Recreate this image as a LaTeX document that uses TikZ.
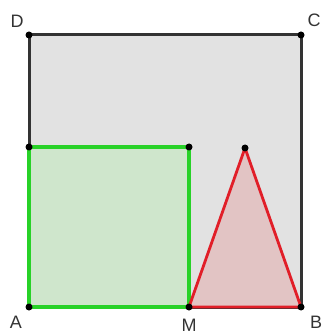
\documentclass[tikz,border=0pt]{standalone}
\usepackage{fontspec}
\setmainfont{Liberation Sans}
\definecolor{sqfill}{RGB}{226,226,226}
\definecolor{grline}{RGB}{40,210,40}
\definecolor{grfill}{RGB}{207,230,204}
\definecolor{rdline}{RGB}{225,30,40}
\definecolor{rdfill}{RGB}{226,196,196}
\tikzset{
  pt/.style={circle,fill=black,inner sep=0pt,minimum size=7pt},
  lbl/.style={font=\fontsize{18}{18}\selectfont,text=black!80,inner sep=0pt},
}
\begin{document}
\begin{tikzpicture}[x=1pt,y=-1pt]
\useasboundingbox (0,0) rectangle (324,336);
\coordinate (A) at (29,307);
\coordinate (B) at (301,307);
\coordinate (C) at (301,35);
\coordinate (D) at (29,35);
\coordinate (M) at (189,307);
\coordinate (E) at (29,147);
\coordinate (F) at (189,147);
\coordinate (T) at (245,148);
\draw[line width=3pt,black!80,fill=sqfill] (A) -- (B) -- (C) -- (D) -- cycle;
\draw[line width=3.2pt,grline,fill=grfill] (A) -- (M) -- (F) -- (E) -- cycle;
\draw[line width=2.8pt,rdline,fill=rdfill,line join=round] (M) -- (B) -- (T) -- cycle;
\foreach \p in {A,B,C,D,M,E,F,T} \node[pt] at (\p) {};
\node[lbl] at (16,322) {A};
\node[lbl] at (189,325) {M};
\node[lbl] at (316,322) {B};
\node[lbl] at (17,21) {D};
\node[lbl] at (314,20) {C};
\end{tikzpicture}
\end{document}
